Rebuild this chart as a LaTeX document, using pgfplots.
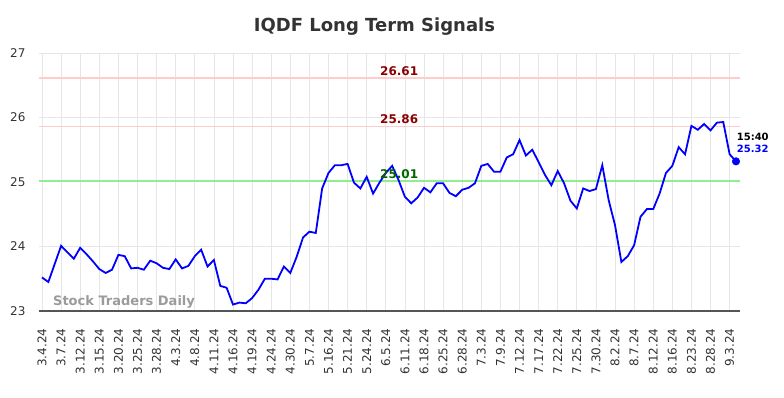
\documentclass[border=0pt]{standalone}
\usepackage{pgfplots}
\pgfplotsset{compat=1.18}
\usepackage{fontspec}
\setmainfont{DejaVu Sans}
\definecolor{gridc}{HTML}{E6E6E6}
\definecolor{axisc}{HTML}{555555}
\definecolor{tickc}{HTML}{333333}
\definecolor{resc}{HTML}{FFCCCC}
\definecolor{siggreen}{RGB}{144,238,144}
\definecolor{redlab}{HTML}{8B0000}
\definecolor{greenlab}{HTML}{006400}
\definecolor{wmark}{HTML}{9B9B9B}
\begin{document}
\begin{tikzpicture}
\path (0pt,0pt) rectangle (784pt,398pt);
\node[font=\bfseries\fontsize{18}{21}\selectfont, text=tickc] at (374.5pt,371pt) {IQDF Long Term Signals};
\begin{axis}[
  set layers,
  at={(39pt,87pt)}, anchor=south west,
  scale only axis, width=701pt, height=258pt,
  xmin=-0.47, xmax=109.63, ymin=23, ymax=27,
  xtick={0,3,...,108},
  xticklabels={3.4.24,3.7.24,3.12.24,3.15.24,3.20.24,3.25.24,3.28.24,4.3.24,4.8.24,4.11.24,4.16.24,4.19.24,4.24.24,4.30.24,5.7.24,5.16.24,5.21.24,5.24.24,6.5.24,6.11.24,6.18.24,6.25.24,6.28.24,7.3.24,7.9.24,7.12.24,7.17.24,7.22.24,7.25.24,7.30.24,8.2.24,8.7.24,8.12.24,8.16.24,8.23.24,8.28.24,9.3.24},
  ytick={23,24,25,26,27},
  xmajorgrids=true, ymajorgrids=false, grid style={gridc, line width=0.8pt},
  major tick length=0pt,
  axis x line*=bottom, axis y line*=left,
  x axis line style={draw=axisc, line width=1.3pt},
  y axis line style={draw=none},
  tick label style={font=\fontsize{12}{14}\selectfont, text=tickc},
  /pgf/number format/assume math mode=true,
  xticklabel style={rotate=90, anchor=east},
  xticklabel shift=14pt,
  yticklabel style={anchor=east},
  yticklabel shift=10pt,
  clip=false,
]
\addplot[color=gridc, line width=0.8pt] coordinates {(-0.47,24) (109.63,24)};
\addplot[color=gridc, line width=0.8pt] coordinates {(-0.47,26) (109.63,26)};
\addplot[color=gridc, line width=0.8pt] coordinates {(-0.47,27) (109.63,27)};
\addplot[color=resc, line width=1.8pt] coordinates {(-0.47,26.61) (109.63,26.61)};
\addplot[color=resc, line width=1.8pt] coordinates {(-0.47,25.86) (109.63,25.86)};
\addplot[color=siggreen, line width=2pt] coordinates {(-0.47,25.01) (109.63,25.01)};
\node[font=\bfseries\fontsize{13}{15}\selectfont, text=wmark, anchor=west] at (axis cs:1.2,23.14) {Stock Traders Daily};
\addplot[color=blue, line width=1.8pt] table {
x y
0 23.52
1 23.45
2 23.73
3 24.01
4 23.91
5 23.81
6 23.98
7 23.88
8 23.77
9 23.65
10 23.59
11 23.64
12 23.87
13 23.85
14 23.66
15 23.67
16 23.64
17 23.78
18 23.74
19 23.67
20 23.65
21 23.80
22 23.66
23 23.70
24 23.85
25 23.95
26 23.69
27 23.79
28 23.39
29 23.36
30 23.10
31 23.13
32 23.12
33 23.20
34 23.33
35 23.50
36 23.50
37 23.49
38 23.69
39 23.59
40 23.84
41 24.14
42 24.23
43 24.21
44 24.90
45 25.14
46 25.26
47 25.26
48 25.28
49 24.99
50 24.90
51 25.08
52 24.82
53 24.99
54 25.14
55 25.25
56 25.03
57 24.77
58 24.67
59 24.76
60 24.91
61 24.84
62 24.98
63 24.98
64 24.83
65 24.78
66 24.88
67 24.91
68 24.98
69 25.25
70 25.28
71 25.16
72 25.16
73 25.38
74 25.43
75 25.65
76 25.41
77 25.50
78 25.31
79 25.11
80 24.95
81 25.17
82 24.98
83 24.71
84 24.59
85 24.90
86 24.86
87 24.89
88 25.26
89 24.72
90 24.33
91 23.76
92 23.85
93 24.02
94 24.46
95 24.58
96 24.58
97 24.82
98 25.14
99 25.25
100 25.54
101 25.43
102 25.87
103 25.81
104 25.90
105 25.80
106 25.92
107 25.93
108 25.43
109 25.32
};
\addplot[color=blue, only marks, mark=*, mark size=3.8pt] coordinates {(109,25.32)};
\node[font=\bfseries\fontsize{12}{14}\selectfont, text=redlab, anchor=base] at (axis cs:56.1,26.61) [yshift=3pt] {26.61};
\node[font=\bfseries\fontsize{12}{14}\selectfont, text=redlab, anchor=base] at (axis cs:56.1,25.86) [yshift=3pt] {25.86};
\node[font=\bfseries\fontsize{12}{14}\selectfont, text=greenlab, anchor=base] at (axis cs:56.1,25.01) [yshift=3pt] {25.01};
\node[font=\bfseries\fontsize{10}{12}\selectfont, text=black, anchor=west, inner sep=0pt] at (axis cs:109.1,25.70) {15:40};
\node[font=\bfseries\fontsize{10}{12}\selectfont, text=blue, anchor=west, inner sep=0pt] at (axis cs:109.1,25.51) {25.32};
\end{axis}
\end{tikzpicture}
\end{document}
